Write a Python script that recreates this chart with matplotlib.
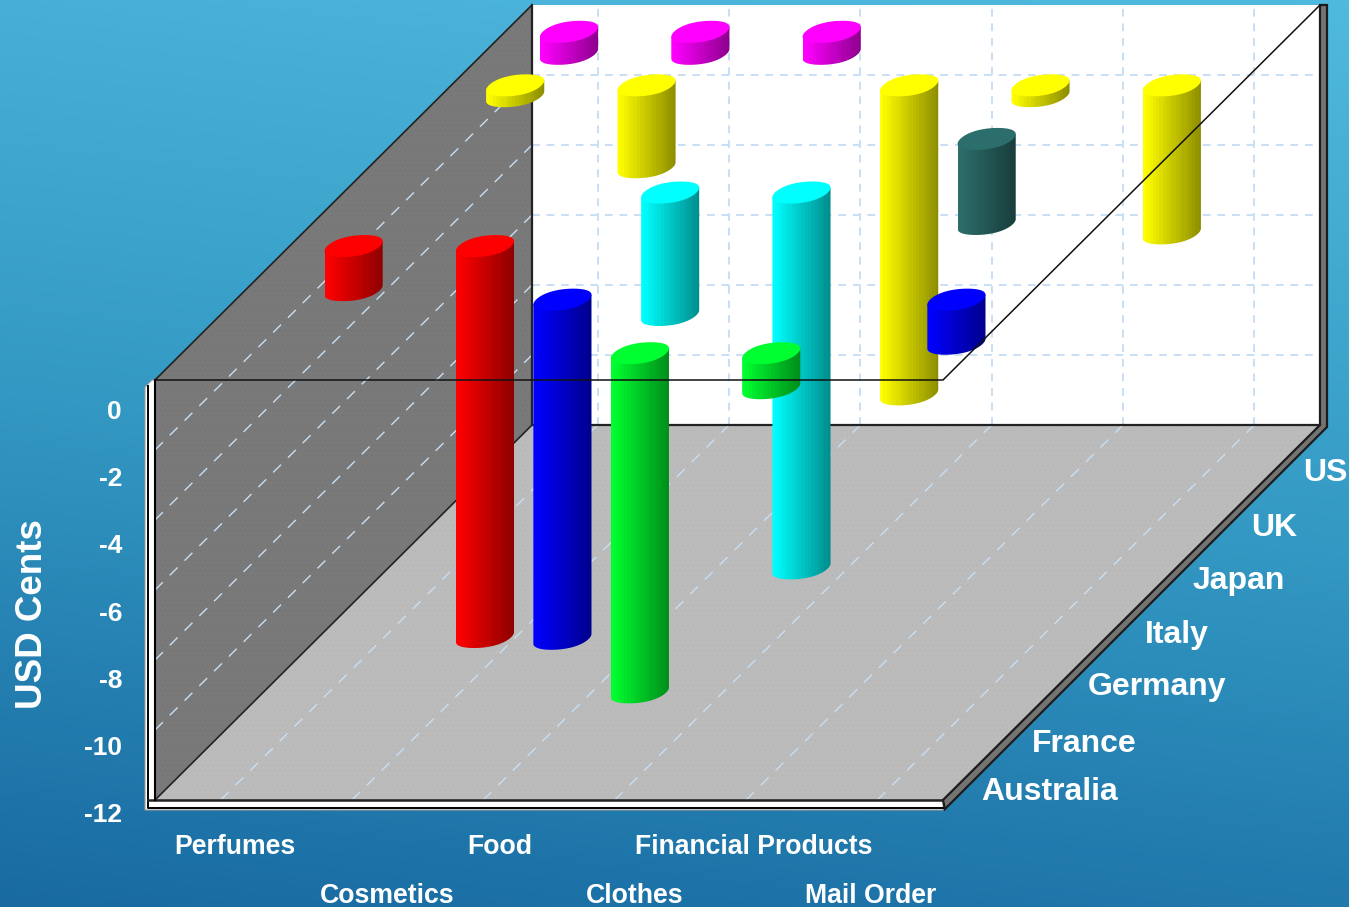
import matplotlib
matplotlib.use("Agg")
import matplotlib.pyplot as plt
from matplotlib.colors import LinearSegmentedColormap
from matplotlib.patches import Polygon
import numpy as np

plt.rcParams['font.family'] = ['Liberation Sans', 'DejaVu Sans']

W, H = 1349, 907

categories = ["Perfumes", "Cosmetics", "Food", "Clothes", "Financial Products", "Mail Order"]
countries = ["Australia", "France", "Germany", "Italy", "Japan", "UK", "US"]
y_ticks = [0, -2, -4, -6, -8, -10, -12]

# USD cents per category, 0 means no bar
australia = [0, 0, 0, -9.69, -1.0, 0]
france = [0, 0, -9.69, 0, 0, -1.26]
germany = [-1.26, -11.17, 0, 0, 0, 0]
italy = [0, 0, -3.5, -10.74, 0, 0]
japan = [0, 0, 0, 0, -2.43, 0]
uk = [-0.31, -2.34, 0, -8.83, -0.31, -4.23]
us = [-0.63, -0.63, -0.63, 0, 0, 0]
series = [australia, france, germany, italy, japan, uk, us]
series_colors = ["#00ff30", "#0000ff", "#ff0000", "#00ffff", "#2c6e6b", "#ffff00", "#ff00ff"]

# oblique projection of the plot box, in figure pixels
X0, X1 = 155, 943
Y_TOP, Y_BOT = 380, 800
DX, DY = 377, 375
CAT_W = (X1 - X0) / len(categories)
UNIT = (Y_BOT - Y_TOP) / 12


def project(cat, row, value):
    x = X0 + cat * CAT_W + row * DX / len(countries)
    y = Y_TOP - row * DY / len(countries) - value * UNIT
    return x, y


fig = plt.figure(figsize=(W / 100, H / 100), dpi=100)
ax = fig.add_axes([0, 0, 1, 1])
ax.axis("off")

# background gradient, tilted slightly
xx, yy = np.meshgrid(np.arange(W), np.arange(H))
bg_cmap = LinearSegmentedColormap.from_list("bg", ["#50b9de", "#349ac4", "#186aa1"])
ax.imshow((yy - 0.12 * xx + 160) / (H + 160), cmap=bg_cmap, vmin=0, vmax=1,
          extent=(0, W, H, 0), aspect="auto", zorder=0)


def textured(verts, base, dot, zorder):
    # dithered grey fill clipped to a polygon
    tex = np.full((H, W), base, dtype=float)
    mask = ((xx % 5 == 0) & (yy % 10 == 0)) | ((xx % 5 == 2) & (yy % 10 == 5))
    tex[mask] = dot
    im = ax.imshow(tex, cmap="gray", vmin=0, vmax=255, extent=(0, W, H, 0),
                   aspect="auto", zorder=zorder, interpolation="nearest")
    im.set_clip_path(Polygon(verts, transform=ax.transData))


# back wall, left wall and floor
ax.add_patch(Polygon([project(0, 7, 0), project(6, 7, 0), project(6, 7, -12), project(0, 7, -12)],
                     fc="white", ec="none", zorder=1))
textured([project(0, 0, 0), project(0, 7, 0), project(0, 7, -12), project(0, 0, -12)], 122, 112, 1)
textured([project(0, 0, -12), project(0, 7, -12), project(6, 7, -12), project(6, 0, -12)], 187, 176, 1)

# grid lines
grid_color = "#c9dff3"
back = dict(color=grid_color, lw=1.4, zorder=2, dash_capstyle="butt", dashes=(4, 3.5))
side = dict(color=grid_color, lw=1.0, zorder=2, dash_capstyle="butt", dashes=(8, 7))
for v in y_ticks[1:-1]:
    a, b, c = project(0, 0, v), project(0, 7, v), project(6, 7, v)
    ax.plot([a[0], b[0]], [a[1], b[1]], **side)
    ax.plot([b[0], c[0]], [b[1], c[1]], **back)
for i in range(len(categories)):
    a, b, c = project(i + 0.5, 0, -12), project(i + 0.5, 7, -12), project(i + 0.5, 7, 0)
    ax.plot([a[0], b[0]], [a[1], b[1]], **side)
    ax.plot([b[0], c[0]], [b[1], c[1]], **back)

# white strips along the front of the box
ax.add_patch(Polygon([(145, 810), (145, 387), (152, 380), (155, 380), (155, 800), (943, 800), (943, 810)],
                     fc="white", ec="#9a9a9a", lw=0.8, zorder=3))
ax.plot([148, 148, 943], [386, 808, 808], color="black", lw=1.4, zorder=3)
ax.plot([148, 943], [800, 800], color="#222222", lw=1.8, zorder=3)

# grey strips along the right side and the back edge
right_strip = [(943, 800), project(6, 7, -12), (1320, 5), (1327, 5), (1327, 427), (945, 809)]
ax.add_patch(Polygon(right_strip, fc="#747474", ec="#1c1c1c", lw=1.6, zorder=3))
ax.plot(*zip(project(0, 7, 0), project(0, 7, -12), project(6, 7, -12)), color="#222222", lw=1.6, zorder=3)
ax.plot(*zip(project(0, 0, 0), project(0, 7, 0)), color="#222222", lw=1.2, zorder=3)
ax.plot(*zip(project(0, 0, -12), project(0, 7, -12)), color="#222222", lw=1.2, zorder=3)
ax.plot(*zip(project(0, 0, 0), project(0, 0, -12)), color="black", lw=1.5, zorder=3)

# cylinders, furthest row first
RX, RY = 26.4, 11.0
BAR_SHIFT = -1.7
RING_N = 160
ring_t = np.linspace(0, 2 * np.pi, RING_N, endpoint=False)
# slightly squared ring, sheared along the depth axis
ring_u = (np.cos(ring_t) - 0.015 * np.cos(3 * ring_t)) / 0.985
ring_v = (np.sin(ring_t) + 0.015 * np.sin(3 * ring_t)) / 0.985
ring_x = RX * ring_u + RY * ring_v
ring_y = -RY * ring_v


def draw_cylinder(cx, top, bottom, color, zorder):
    left, right = np.argmin(ring_x), np.argmax(ring_x)
    lower = np.arange(left, right + RING_N + 1) % RING_N
    outline = list(zip(cx + ring_x[lower], bottom + ring_y[lower]))
    outline += [(cx + ring_x[right], top + ring_y[right]), (cx + ring_x[left], top + ring_y[left])]

    rgb = np.array(matplotlib.colors.to_rgb(color))
    shade = np.linspace(1.0, 0.56, 18)[None, :, None]
    half = ring_x.max()
    im = ax.imshow(rgb[None, None, :] * shade,
                   extent=(cx - half, cx + half, bottom + 15, top - 15),
                   aspect="auto", zorder=zorder, interpolation="nearest")
    im.set_clip_path(Polygon(outline, transform=ax.transData))

    ax.add_patch(Polygon(list(zip(cx + ring_x, top + ring_y)), fc=color, ec="none", zorder=zorder + 0.5))


z = 4
for row in range(len(countries) - 1, -1, -1):
    for cat, value in enumerate(series[row]):
        if value == 0:
            continue
        cx, top = project(cat + 0.5, row + 0.5, 0)
        _, bottom = project(cat + 0.5, row + 0.5, value)
        draw_cylinder(cx + BAR_SHIFT, top, bottom, series_colors[row], z)
        z += 1

# thin outline of the zero plane over the bars
ax.plot(*zip(project(0, 0, 0), project(6, 0, 0), project(6, 7, 0)), color="#111111", lw=1.1, zorder=z)

# text
label = dict(color="white", fontweight="bold", zorder=z + 1)
for v in y_ticks:
    ax.text(122, 412 - v * 33.6, str(v), ha="right", va="center", fontsize=19, **label)
ax.text(33, 614, "USD Cents", rotation=90, ha="center", va="center", fontsize=26.5, **label)

cat_label_x = [235, 387, 500, 635, 754, 871]
cat_label_y = [847, 896, 847, 896, 847, 896]
for name, x, y in zip(categories, cat_label_x, cat_label_y):
    ax.text(x, y, name, ha="center", va="center", fontsize=19.2, **label)

country_label_x = [981, 1032, 1088, 1145, 1193, 1251, 1303]
country_label_y = [792, 744, 687, 635, 581, 528, 473]
for name, x, y in zip(countries, country_label_x, country_label_y):
    ax.text(x, y, name, ha="left", va="center", fontsize=23, **label)

ax.set_xlim(0, W)
ax.set_ylim(H, 0)
fig.savefig("out.png", dpi=100)
